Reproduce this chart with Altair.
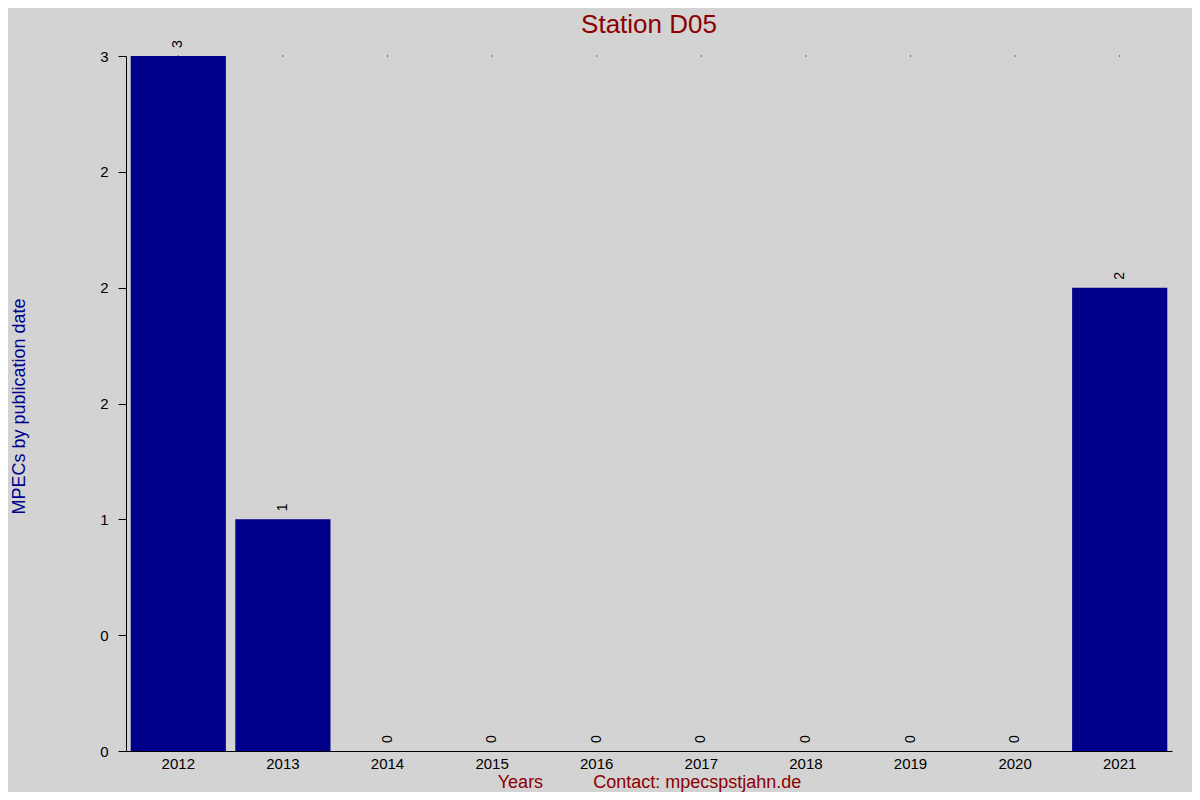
import altair as alt
import pandas as pd

years = ["2012", "2013", "2014", "2015", "2016", "2017", "2018", "2019", "2020", "2021"]
counts = [3, 1, 0, 0, 0, 0, 0, 0, 0, 2]
ytick_values = [0, 0.5, 1, 1.5, 2, 2.5, 3]
ytick_labels = ["0", "0", "1", "2", "2", "2", "3"]

df = pd.DataFrame({"year": years, "count": counts, "top": [3] * len(years)})

FONT = "Liberation Sans"
NB = "\u00a0"
label_expr = "[" + ",".join(f"'{l}'" for l in ytick_labels) + "][round(datum.value*2)]"

x_enc = alt.X(
    "year:N",
    sort=years,
    scale=alt.Scale(paddingInner=0.09, paddingOuter=0.045),
    axis=alt.Axis(
        title="Years" + NB * 10 + "Contact: mpecspstjahn.de",
        titleColor="#8b0000",
        titleFont=FONT,
        titleFontSize=18,
        titleFontWeight="normal",
        titleBaseline="alphabetic",
        titleY=36,
        labelAngle=0,
        labelFont=FONT,
        labelFontSize=15,
        labelColor="black",
        labelPadding=5,
        ticks=False,
        domainColor="black",
        domainWidth=1,
    ),
)

y_scale = alt.Scale(domain=[0, 3], nice=False, zero=True)

bars = alt.Chart(df).mark_bar(color="#00008b").encode(
    x=x_enc,
    y=alt.Y(
        "count:Q",
        scale=y_scale,
        axis=alt.Axis(
            title="MPECs by publication date",
            titleColor="#00008b",
            titleFont=FONT,
            titleFontSize=18,
            titleFontWeight="normal",
            titleX=-107,
            titleY=350,
            titleAngle=270,
            titleAlign="center",
            titleBaseline="middle",
            values=ytick_values,
            labelExpr=label_expr,
            labelFont=FONT,
            labelFontSize=15,
            labelColor="black",
            labelPadding=10,
            tickSize=8,
            tickColor="black",
            domainColor="black",
            grid=False,
        ),
    ),
)

labels = alt.Chart(df).mark_text(
    angle=270, align="left", baseline="middle", dx=8, fontSize=14, font=FONT, color="black"
).encode(
    x=alt.X("year:N", sort=years),
    y=alt.Y("count:Q", scale=y_scale),
    text="count:Q",
)

dots = alt.Chart(df).mark_square(size=1, color="black", opacity=1).encode(
    x=alt.X("year:N", sort=years),
    y=alt.Y("top:Q", scale=y_scale),
)

chart = (
    alt.layer(bars, dots, labels)
    .properties(
        width=1046,
        height=695,
        background="#d3d3d3",
        autosize=alt.AutoSizeParams(type="none"),
        padding={"left": 118, "top": 48, "right": 20, "bottom": 41},
        title=alt.TitleParams(
            "Station D05",
            color="#8b0000",
            font=FONT,
            fontSize=26,
            fontWeight="normal",
            anchor="middle",
            offset=2,
        ),
    )
    .configure_view(stroke=None)
)

chart.save("out.html", embed_options={"renderer": "svg", "actions": False})
